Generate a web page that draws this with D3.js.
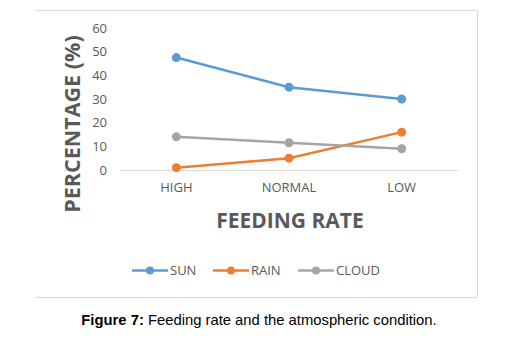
<!DOCTYPE html>
<html>
<head>
<meta charset="utf-8">
<script src="https://cdn.jsdelivr.net/npm/d3@7"></script>
<style>
  body { margin: 0; background: #fff; }
  text { font-family: "Open Sans", sans-serif; }
</style>
</head>
<body>
<div id="chartDiv"></div>
<script>
var categories = ["HIGH", "NORMAL", "LOW"];
var seriesNames = ["SUN", "RAIN", "CLOUD"];
var sunValues = [47.5, 35, 30];
var rainValues = [1, 5, 16];
var cloudValues = [14, 11.5, 9];
var yTicks = [0, 10, 20, 30, 40, 50, 60];
var seriesColors = ["#5B9BD5", "#ED7D31", "#A5A5A5"];

var series = [sunValues, rainValues, cloudValues].map(function(v, i) {
  return { name: seriesNames[i], values: v, color: seriesColors[i] };
});

var width = 506, height = 345;
var plot = { left: 120, right: 458, top: 28, bottom: 170 };

var svg = d3.select("#chartDiv")
  .append("svg")
    .attr("width", width)
    .attr("height", height);

// chart frame (top, right, bottom only)
svg.append("path")
  .attr("d", "M35,10.5H477.5V297.5H35")
  .attr("fill", "none")
  .attr("stroke", "#d9d9d9")
  .attr("stroke-width", 1);

var xScale = d3.scaleBand()
  .domain(categories)
  .range([plot.left, plot.right]);

var yScale = d3.scaleLinear()
  .domain([0, 60])
  .range([plot.bottom, plot.top]);

// Y axis labels
var yAxis = svg.append("g")
  .attr("transform", "translate(" + (plot.left - 13) + ",0)")
  .call(d3.axisLeft(yScale).tickValues(yTicks).tickSize(0).tickPadding(0));
yAxis.select(".domain").remove();
yAxis.selectAll("text")
  .attr("fill", "#595959")
  .style("font-size", "13px")
  .style("font-family", "'Open Sans', sans-serif");

// baseline
svg.append("line")
  .attr("x1", plot.left).attr("x2", plot.right)
  .attr("y1", yScale(0) + 0.5).attr("y2", yScale(0) + 0.5)
  .attr("stroke", "#d9d9d9")
  .attr("stroke-width", 1);

// X axis labels
var xAxis = svg.append("g")
  .attr("transform", "translate(0," + (plot.bottom + 13) + ")")
  .call(d3.axisBottom(xScale).tickSize(0).tickPadding(0));
xAxis.select(".domain").remove();
xAxis.selectAll("text")
  .attr("fill", "#595959")
  .style("font-size", "13px")
  .style("font-family", "'Open Sans', sans-serif");

// axis titles
svg.append("text")
  .attr("transform", "translate(80,124) rotate(-90)")
  .attr("text-anchor", "middle")
  .attr("fill", "#595959")
  .attr("font-weight", "bold")
  .attr("font-size", "21.5px")
  .text("PERCENTAGE (%)");

svg.append("text")
  .attr("x", 290)
  .attr("y", 228)
  .attr("text-anchor", "middle")
  .attr("fill", "#595959")
  .attr("font-weight", "bold")
  .attr("font-size", "21px")
  .text("FEEDING RATE");

// lines and markers
var line = d3.line()
  .x(function(d, i) { return xScale(categories[i]) + xScale.bandwidth() / 2; })
  .y(function(d) { return yScale(d); });

series.forEach(function(s) {
  svg.append("path")
    .datum(s.values)
    .attr("d", line)
    .attr("fill", "none")
    .attr("stroke", s.color)
    .attr("stroke-width", 2.5);
  svg.append("g")
    .selectAll("circle")
    .data(s.values)
    .enter().append("circle")
      .attr("cx", function(d, i) { return xScale(categories[i]) + xScale.bandwidth() / 2; })
      .attr("cy", function(d) { return yScale(d); })
      .attr("r", 4.5)
      .attr("fill", s.color);
});

// legend
var legendX = [132, 213, 298];
var legend = svg.append("g")
  .selectAll("g")
  .data(series)
  .enter().append("g")
    .attr("transform", function(d, i) { return "translate(" + legendX[i] + ",270.5)"; });
legend.append("line")
  .attr("x1", 0).attr("x2", 36)
  .attr("stroke", function(d) { return d.color; })
  .attr("stroke-width", 2.5);
legend.append("circle")
  .attr("cx", 18).attr("r", 4)
  .attr("fill", function(d) { return d.color; });
legend.append("text")
  .attr("x", 38)
  .attr("y", 4.5)
  .attr("fill", "#595959")
  .attr("font-size", "13px")
  .text(function(d) { return d.name; });

// caption
var caption = svg.append("text")
  .attr("x", 259)
  .attr("y", 324.5)
  .attr("text-anchor", "middle")
  .style("font-family", "'Liberation Sans', Arial, sans-serif")
  .attr("font-size", "14.8px")
  .attr("fill", "#000");
caption.append("tspan").attr("font-weight", "bold").text("Figure 7:");
caption.append("tspan").text(" Feeding rate and the atmospheric condition.");
</script>
</body>
</html>
